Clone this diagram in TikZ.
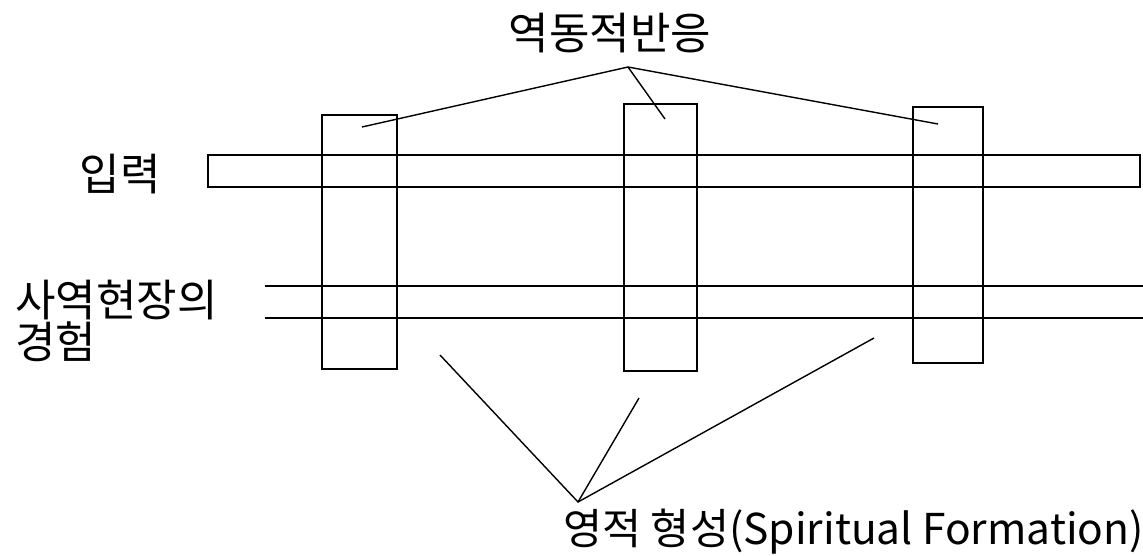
\documentclass[tikz,border=0pt]{standalone}
\usepackage{fontspec}
\setmainfont{Noto Sans CJK KR}
\begin{document}
\begin{tikzpicture}[x=1pt,y=-1pt,
  bar/.style={draw=black,line width=1.6pt,inner sep=0pt,fill=none},
  conn/.style={draw=black,line width=1.4pt},
  lbl/.style={inner sep=0pt,font=\fontsize{44}{38}\selectfont}]
\useasboundingbox[fill=white] (0,0) rectangle (1143,555);
% horizontal bar (input)
\node[bar,minimum width=932pt,minimum height=32pt] (inbar) at (674,171) {};
% second horizontal band (open on both ends)
\coordinate (b2tl) at (265,286);
\coordinate (b2tr) at (1143,286);
\coordinate (b2bl) at (265,318);
\coordinate (b2br) at (1143,318);
\draw[conn,line width=1.6pt] (b2tl) -- (b2tr);
\draw[conn,line width=1.6pt] (b2bl) -- (b2br);
% vertical boxes
\node[bar,minimum width=75pt,minimum height=254pt] (v1) at (359.5,242) {};
\node[bar,minimum width=73pt,minimum height=267pt] (v2) at (660.5,237.5) {};
\node[bar,minimum width=70pt,minimum height=256pt] (v3) at (948,235) {};
% labels
\node[lbl] (top) at (610,33) {역동적반응};
\node[lbl] (inp) at (120,174) {입력};
\node[lbl,anchor=west,align=left] (exp) at (15,321) {사역현장의\\경험};
\node[lbl,anchor=west,font=\fontsize{42.5}{40}\selectfont] (sf) at (563,532) {영적 형성(Spiritual Formation)};
% top connectors
\coordinate (ta) at (628,67);
\coordinate (t1) at (362,127);
\coordinate (t2) at (665,119);
\coordinate (t3) at (938,124);
\draw[conn] (t1) -- (ta) -- (t3);
\draw[conn] (ta) -- (t2);
% bottom connectors
\coordinate (ba) at (578,502);
\coordinate (e1) at (440,355);
\coordinate (e2) at (639,398);
\coordinate (e3) at (874,338);
\draw[conn] (e1) -- (ba) -- (e3);
\draw[conn] (ba) -- (e2);
\end{tikzpicture}
\end{document}
